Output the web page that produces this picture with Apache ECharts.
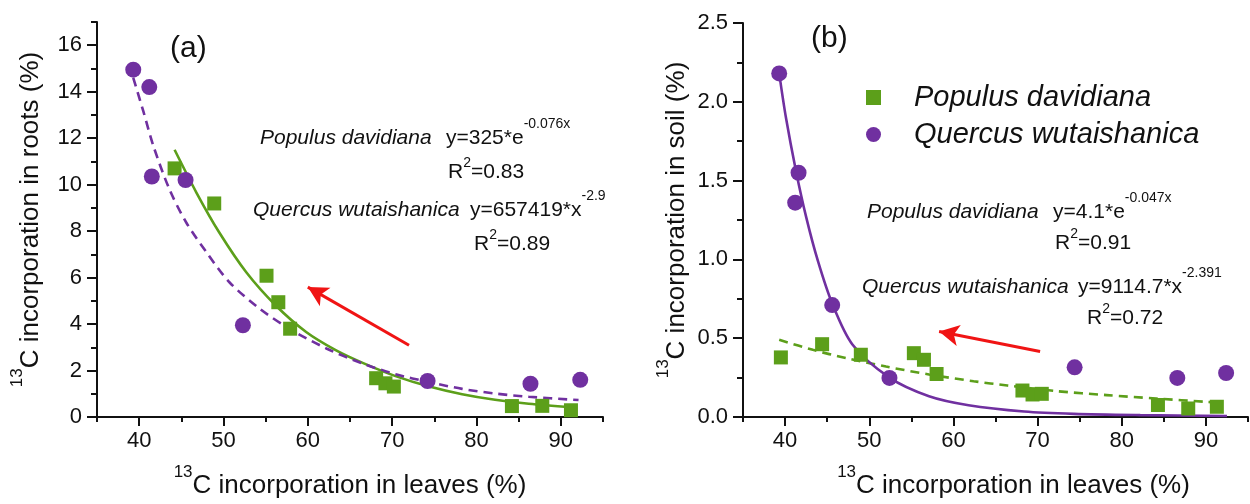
<!DOCTYPE html>
<html>
<head>
<meta charset="utf-8">
<script src="https://cdn.jsdelivr.net/npm/echarts@6/dist/echarts.min.js"></script>
<style>html,body{margin:0;padding:0;background:#fff}#c{width:1250px;height:504px}</style>
</head>
<body>
<div id="c"></div>
<script>
// ---------- data ----------
const xMajor = [40, 50, 60, 70, 80, 90];
const xMinor = [35, 45, 55, 65, 75, 85, 95];
const yMajorA = [0, 2, 4, 6, 8, 10, 12, 14, 16];
const yMinorA = [1, 3, 5, 7, 9, 11, 13, 15, 17];
const yMajorB = [0, 0.5, 1, 1.5, 2, 2.5];
const yMinorB = [0.25, 0.75, 1.25, 1.75, 2.25];

// panel (a): roots
const populusRoots = [[44.2,10.7],[48.9,9.19],[55.1,6.08],[56.5,4.94],[57.9,3.8],[68.1,1.67],[69.2,1.45],[70.2,1.31],[84.2,0.47],[87.8,0.48],[91.2,0.29]];
const quercusRoots = [[39.3,14.95],[41.2,14.2],[41.5,10.35],[45.5,10.2],[52.3,3.95],[74.2,1.55],[86.4,1.43],[92.3,1.6]];
const populusRootsFit = [[44.2,11.5],[46.8,9.65],[49.5,7.94],[52.7,6.23],[56.2,4.8],[59.8,3.66],[63.3,2.88],[66.5,2.33],[70.4,1.76],[74.4,1.31],[78.3,0.98],[82.2,0.74],[86.2,0.57],[91.3,0.42]];
const quercusRootsFit = [[39.3,14.6],[40.5,13.15],[41.7,11.65],[43.6,9.79],[45.6,8.36],[48,7.08],[50.7,5.8],[54.3,4.66],[57.8,3.8],[62.2,2.95],[66.5,2.3],[70.4,1.84],[74.4,1.5],[78.3,1.21],[82.2,1.01],[86.2,0.87],[92.1,0.73]];
const arrowA = [[72.0,3.09],[60.0,5.59]];

// panel (b): soil
const populusSoil = [[39.5,0.378],[44.4,0.462],[49,0.395],[55.3,0.405],[56.5,0.363],[58,0.273],[68.2,0.168],[69.4,0.143],[70.5,0.147],[84.3,0.076],[87.9,0.054],[91.3,0.065]];
const quercusSoil = [[39.3,2.18],[41.6,1.55],[41.2,1.36],[45.6,0.71],[52.4,0.248],[74.4,0.315],[86.6,0.248],[92.4,0.279]];
const populusSoilFit = [[39.3,0.49],[43.3,0.426],[47.2,0.374],[52,0.32],[57.1,0.27],[62.4,0.227],[66.4,0.2],[72.3,0.164],[78.2,0.139],[84.1,0.117],[90.1,0.096],[91.3,0.092]];
const quercusSoilFit = [[39.3,2.18],[40.1,1.9],[41.3,1.56],[42.5,1.27],[43.9,0.99],[45.6,0.72],[48.0,0.46],[52.4,0.25],[57.1,0.132],[61.8,0.075],[68.4,0.035],[74.3,0.02],[82.2,0.012],[92.5,0.006]];
const arrowB = [[70.3,0.416],[58.3,0.542]];

const speciesNames = ['Populus davidiana', 'Quercus wutaishanica'];
const eqA = [['y=325*e', '-0.076x', '0.83'], ['y=657419*x', '-2.9', '0.89']];
const eqB = [['y=4.1*e', '-0.047x', '0.91'], ['y=9114.7*x', '-2.391', '0.72']];

// ---------- style ----------
const FONT = '"Liberation Sans", Arial, Helvetica, sans-serif';
const INK = '#111111';
const GREEN = '#5c9f1a';
const PURPLE = '#7030a0';
const RED = '#f01414';

const nameRich = {
  s: { fontSize: 17, lineHeight: 17, verticalAlign: 'top', fontFamily: FONT, color: INK },
  m: { fontSize: 26, lineHeight: 44, verticalAlign: 'middle', fontFamily: FONT, color: INK }
};

function xMain(grid, name, pad) {
  return {
    type: 'value', gridIndex: grid, position: 'bottom', min: 35, max: 95,
    axisLine: { show: true, onZero: false, lineStyle: { color: INK, width: 2 } },
    axisTick: { show: true, customValues: xMajor, length: 9, lineStyle: { color: INK, width: 2 } },
    axisLabel: { customValues: xMajor, fontSize: 22, color: INK, fontFamily: FONT, margin: 13 },
    splitLine: { show: false },
    name: name, nameLocation: 'middle', nameGap: 47,
    nameTextStyle: { rich: nameRich, padding: pad }
  };
}
function xMinorAxis(grid) {
  return {
    type: 'value', gridIndex: grid, position: 'bottom', min: 35, max: 95,
    axisLine: { show: false },
    axisTick: { show: true, customValues: xMinor, length: 5, lineStyle: { color: INK, width: 2 } },
    axisLabel: { show: false }, splitLine: { show: false }
  };
}
function yMain(grid, max, major, name, gap, fmt) {
  return {
    type: 'value', gridIndex: grid, position: 'left', min: 0, max: max,
    axisLine: { show: true, onZero: false, lineStyle: { color: INK, width: 2 } },
    axisTick: { show: true, customValues: major, length: 10, lineStyle: { color: INK, width: 2 } },
    axisLabel: { customValues: major, fontSize: 22, color: INK, fontFamily: FONT, margin: 15, formatter: fmt },
    splitLine: { show: false },
    name: name, nameLocation: 'middle', nameGap: gap, nameRotate: 90,
    nameTextStyle: { rich: nameRich }
  };
}
function yMinorAxis(grid, max, minor) {
  return {
    type: 'value', gridIndex: grid, position: 'left', min: 0, max: max,
    axisLine: { show: false },
    axisTick: { show: true, customValues: minor, length: 6, lineStyle: { color: INK, width: 2 } },
    axisLabel: { show: false }, splitLine: { show: false }
  };
}

function scatter(name, data, xi, yi, sym, size, color, arrow) {
  const s = {
    name: name, type: 'scatter', xAxisIndex: xi, yAxisIndex: yi, data: data,
    symbol: sym, symbolSize: size, itemStyle: { color: color, opacity: 1 }, z: 5, silent: true
  };
  if (arrow) {
    s.markLine = {
      silent: true, symbol: ['none', 'arrow'], symbolSize: [16, 20], animation: false,
      label: { show: false },
      lineStyle: { color: RED, width: 3, type: 'solid' },
      data: [[{ coord: arrow[0] }, { coord: arrow[1] }]]
    };
  }
  return s;
}
function fitLine(name, data, xi, yi, color, dashed) {
  return {
    name: name, type: 'line', xAxisIndex: xi, yAxisIndex: yi, data: data,
    showSymbol: false, symbol: 'none', smooth: 0.3,
    lineStyle: { color: color, width: 2.6, type: dashed ? [9, 6] : 'solid' },
    itemStyle: { color: color }, z: 3, silent: true
  };
}

function label(x, y, text, size, italic) {
  return { type: 'text', x: x, y: y, z: 10, silent: true,
    style: { text: text, fontSize: size, fontFamily: FONT, fontStyle: italic ? 'italic' : 'normal', fill: INK, verticalAlign: 'middle', align: 'left' } };
}
function eqText(x, y, main, sup) {
  return { type: 'text', x: x, y: y, z: 10, silent: true,
    style: { text: '{m|' + main + '}{s|' + sup + '}', verticalAlign: 'middle', align: 'left',
      rich: { m: { fontSize: 21, lineHeight: 42, verticalAlign: 'middle', fontFamily: FONT, fill: INK, color: INK },
              s: { fontSize: 14, lineHeight: 14, verticalAlign: 'top', fontFamily: FONT, fill: INK, color: INK } } } };
}
function r2Text(x, y, val) {
  return { type: 'text', x: x, y: y, z: 10, silent: true,
    style: { text: '{m|R}{s|2}{m|=' + val + '}', verticalAlign: 'middle', align: 'left',
      rich: { m: { fontSize: 21, lineHeight: 32, verticalAlign: 'middle', fontFamily: FONT, fill: INK, color: INK },
              s: { fontSize: 14, lineHeight: 14, verticalAlign: 'top', fontFamily: FONT, fill: INK, color: INK } } } };
}

const chart = echarts.init(document.getElementById('c'), null, { renderer: 'canvas' });
chart.setOption({
  animation: false,
  backgroundColor: '#ffffff',
  grid: [
    { left: 97, width: 506, top: 22, bottom: 85 },
    { left: 743, width: 505, top: 23, bottom: 85 }
  ],
  xAxis: [
    xMain(0, '{s|13}{m|C incorporation in leaves (%)}', [0, 0, 0, 0]),
    xMinorAxis(0),
    xMain(1, '{s|13}{m|C incorporation in leaves (%)}', [0, 0, 0, 36]),
    xMinorAxis(1)
  ],
  yAxis: [
    yMain(0, 17, yMajorA, '{s|13}{m|C incorporation in roots (%)}', 44, function (v) { return String(v); }),
    yMinorAxis(0, 17, yMinorA),
    yMain(1, 2.5, yMajorB, '{s|13}{m|C incorporation in soil (%)}', 44, function (v) { return v.toFixed(1); }),
    yMinorAxis(1, 2.5, yMinorB)
  ],
  legend: {
    show: true, orient: 'vertical', left: 861, top: 78, itemWidth: 15, itemHeight: 15, itemGap: 8,
    selectedMode: false,
    textStyle: { fontSize: 29, fontStyle: 'italic', fontFamily: FONT, color: INK, padding: [0, 0, 0, 28] },
    data: [{ name: speciesNames[0], icon: 'rect' }, { name: speciesNames[1], icon: 'circle' }]
  },
  series: [
    fitLine('Populus fit a', populusRootsFit, 0, 0, GREEN, false),
    fitLine('Quercus fit a', quercusRootsFit, 0, 0, PURPLE, true),
    scatter(speciesNames[0], populusRoots, 0, 0, 'rect', 14, GREEN, arrowA),
    scatter(speciesNames[1], quercusRoots, 0, 0, 'circle', 16, PURPLE, null),
    fitLine('Populus fit b', populusSoilFit, 2, 2, GREEN, true),
    fitLine('Quercus fit b', quercusSoilFit, 2, 2, PURPLE, false),
    scatter(speciesNames[0], populusSoil, 2, 2, 'rect', 14, GREEN, arrowB),
    scatter(speciesNames[1], quercusSoil, 2, 2, 'circle', 16, PURPLE, null)
  ],
  graphic: [
    label(170, 49, '(a)', 30, false),
    label(811, 39, '(b)', 30, false),
    label(260, 138, speciesNames[0], 21, true),
    eqText(446, 138, eqA[0][0], eqA[0][1]),
    r2Text(448, 172, eqA[0][2]),
    label(253, 210, speciesNames[1], 21, true),
    eqText(470, 210, eqA[1][0], eqA[1][1]),
    r2Text(474, 244, eqA[1][2]),
    label(867, 212, speciesNames[0], 21, true),
    eqText(1053, 212, eqB[0][0], eqB[0][1]),
    r2Text(1055, 243, eqB[0][2]),
    label(862, 287, speciesNames[1], 21, true),
    eqText(1078, 287, eqB[1][0], eqB[1][1]),
    r2Text(1087, 318, eqB[1][2])
  ]
});
</script>
</body>
</html>
